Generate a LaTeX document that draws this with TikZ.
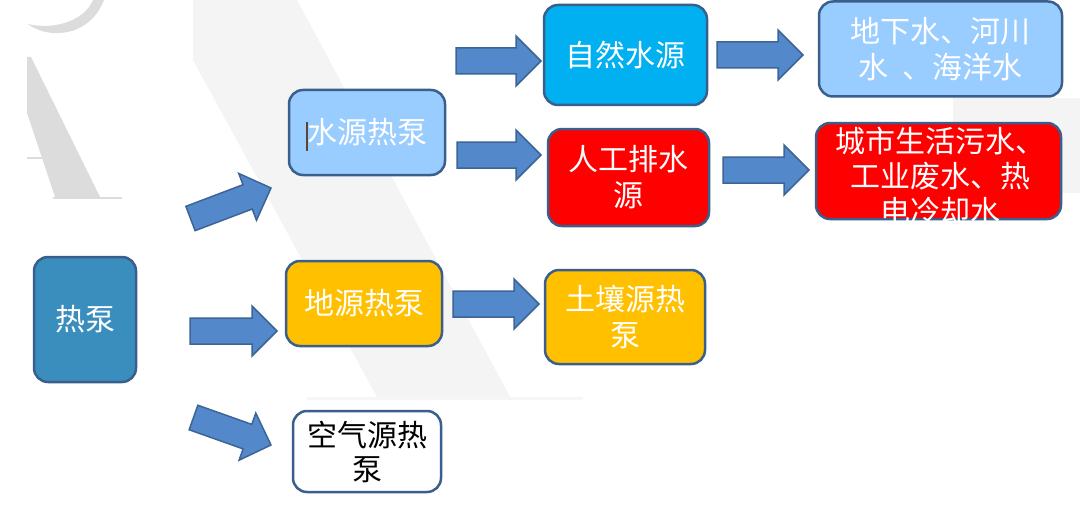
\documentclass[tikz,border=0pt]{standalone}
\usepackage{fontspec}
\newfontfamily\cjk{Noto Sans CJK SC}
\usetikzlibrary{calc}
\definecolor{bordc}{HTML}{3A5F8C}
\definecolor{arrf}{HTML}{5389CA}
\definecolor{arrd}{HTML}{3C6496}
\definecolor{hpc}{HTML}{3A8EBE}
\definecolor{lblue}{HTML}{99CCFF}
\definecolor{cyanb}{HTML}{00B0F0}
\definecolor{redb}{HTML}{FF0000}
\definecolor{goldc}{HTML}{FFC000}
\definecolor{wmA}{HTML}{DCDCDC}
\definecolor{wmB}{HTML}{F4F4F4}
\definecolor{cursorc}{HTML}{5A4632}
\newcommand\blockarrow[2]{%
  \coordinate (hb) at ($(#2)!25pt!(#1)$);
  \draw[barrow] ($(#1)!13pt!90:(#2)$) -- ($(hb)!13pt!-90:(#1)$) -- ($(hb)!25pt!-90:(#1)$)
    -- (#2) -- ($(hb)!25pt!90:(#1)$) -- ($(hb)!13pt!90:(#1)$) -- ($(#1)!13pt!-90:(#2)$) -- cycle;}
\begin{document}
\begin{tikzpicture}[x=1pt,y=-1pt,
  box/.style={draw=bordc, line width=2.5pt, rounded corners=14pt, inner sep=0pt,
    align=center, font=\cjk\fontsize{30}{36}\selectfont, text=white},
  barrow/.style={fill=arrf, draw=arrd, line width=1.5pt, line join=miter}]
\fill[white] (0,0) rectangle (1080,511);
\useasboundingbox (0,0) rectangle (1080,511);
% watermark
\fill[wmB] (193,0) -- (297,0) -- (510,397) -- (377,397) -- (193,60) -- cycle;
\fill[wmB!80!white] (307,396.5) rectangle (583,399.5);
\fill[wmB] (953,98) rectangle (1080,193);
\fill[wmA] (27,57) -- (31,57) -- (100,197) -- (55,197) -- (27,113) -- cycle;
\fill[wmA] (27,157) rectangle (50,159);
\fill[wmA] (53,197) rectangle (122,199);
\fill[wmA] (28,24) .. controls (45,38) and (88,40) .. (104,0) -- (93,0)
  .. controls (84,22) and (52,30) .. (28,24) -- cycle;
% boxes
\node[box, fill=hpc, minimum width=102pt, minimum height=125pt] (hp) at (85,319.5) {热泵};
\node[box, fill=lblue, minimum width=156pt, minimum height=85pt] (ws) at (367,132.5) {水源热泵};
\node[box, fill=cyanb, minimum width=163pt, minimum height=100pt] (zr) at (625.5,55) {自然水源};
\node[box, fill=redb, minimum width=161pt, minimum height=97pt] (rg) at (628.5,177.5) {人工排水\\源};
\node[box, fill=lblue, minimum width=243pt, minimum height=95pt] (dx) at (940.5,49) {地下水、河川\\水\hspace{0.5em}、海洋水};
\node[box, fill=redb, minimum width=245pt, minimum height=96pt] (cs) at (938.5,171) {};
\begin{scope}
  \clip (812,118) rectangle (1065,223);
  \node[box, draw=none, font=\cjk\fontsize{30}{35}\selectfont] (cst) at (940,176) {城市生活污水、\\工业废水、热\\电冷却水};
\end{scope}
\node[box, fill=goldc, minimum width=156pt, minimum height=85pt] (ds) at (364,303.5) {地源热泵};
\node[box, fill=goldc, minimum width=160pt, minimum height=94pt] (tr) at (625,317) {土壤源热\\泵};
\node[box, fill=white, text=black, font=\cjk\fontsize{30}{34}\selectfont, minimum width=148pt, minimum height=81pt] (kq) at (367,451.5) {空气源热\\泵};
\draw[cursorc, line width=1.5pt] (307,122) -- (307,151);
% arrow ends
\coordinate (a1s) at (190.5,218.5); \coordinate (a1e) at (271,188);
\coordinate (a2s) at (190,331);     \coordinate (a2e) at (277,331);
\coordinate (a3s) at (193.5,417.5); \coordinate (a3e) at (271,445);
\coordinate (a4s) at (456,61);      \coordinate (a4e) at (541,61);
\coordinate (a5s) at (457,155);     \coordinate (a5e) at (541,155);
\coordinate (a6s) at (717,55);      \coordinate (a6e) at (803,55);
\coordinate (a7s) at (723,170);     \coordinate (a7e) at (809,170);
\coordinate (a8s) at (453,304);     \coordinate (a8e) at (539,304);
\blockarrow{a1s}{a1e}
\blockarrow{a2s}{a2e}
\blockarrow{a3s}{a3e}
\blockarrow{a4s}{a4e}
\blockarrow{a5s}{a5e}
\blockarrow{a6s}{a6e}
\blockarrow{a7s}{a7e}
\blockarrow{a8s}{a8e}
\end{tikzpicture}
\end{document}
